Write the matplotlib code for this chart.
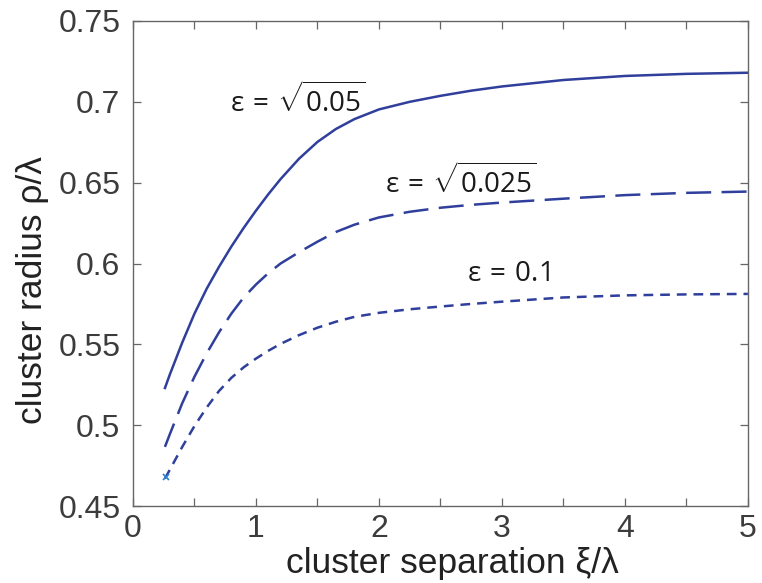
"""Cluster radius vs cluster separation for three values of epsilon"""

import matplotlib
matplotlib.use('Agg')
import matplotlib.pyplot as plt

# Data
sep = [0.26, 0.3, 0.4, 0.5, 0.6, 0.7, 0.8, 0.9, 1.0, 1.1, 1.2, 1.35, 1.5,
       1.65, 1.8, 2.0, 2.25, 2.5, 2.75, 3.0, 3.5, 4.0, 4.5, 5.0]
radius_005 = [0.523, 0.5314, 0.551, 0.569, 0.5845, 0.598, 0.6105, 0.622,
              0.6327, 0.6428, 0.6522, 0.6648, 0.6752, 0.6832, 0.6893, 0.6953,
              0.7, 0.7037, 0.7069, 0.7095, 0.7135, 0.716, 0.7173, 0.718]
radius_0025 = [0.4866, 0.4945, 0.5135, 0.53, 0.5445, 0.5575, 0.569, 0.579,
               0.587, 0.594, 0.6, 0.607, 0.6135, 0.6195, 0.624, 0.6285,
               0.632, 0.6345, 0.6363, 0.6377, 0.6401, 0.6423, 0.6437, 0.6445]
radius_01 = [0.467, 0.4725, 0.4865, 0.4995, 0.511, 0.5212, 0.5293, 0.5358,
             0.5412, 0.546, 0.5503, 0.5557, 0.5603, 0.564, 0.567, 0.5695,
             0.5717, 0.5734, 0.575, 0.5764, 0.579, 0.5803, 0.5809, 0.5812]
marker_x = [0.27]
marker_y = [0.468]

x_ticks = [0, 1, 2, 3, 4, 5]
x_minor = [0.5, 1.5, 2.5, 3.5, 4.5]
y_ticks = [0.45, 0.5, 0.55, 0.6, 0.65, 0.7, 0.75]
y_tick_labels = ['0.45', '0.5', '0.55', '0.6', '0.65', '0.7', '0.75']

line_color = '#2f3f9b'
plt.rcParams['lines.scale_dashes'] = False
plt.rcParams['mathtext.fontset'] = 'custom'
plt.rcParams['mathtext.rm'] = 'Open Sans'
plt.rcParams['mathtext.it'] = 'Open Sans'

fig = plt.figure(figsize=(7.62, 5.83), dpi=100)
ax = fig.add_axes([0.1745, 0.132, 0.807, 0.832])

ax.plot(sep, radius_005, color=line_color, lw=1.8)
ax.plot(sep, radius_0025, color=line_color, lw=1.8, linestyle=(0, (18, 7.5)))
ax.plot(sep, radius_01, color=line_color, lw=1.8, linestyle=(0, (7, 5)))
ax.plot(marker_x, marker_y, 'x', color='#2a7fd4', markersize=4, mew=1.2)

# Curve labels
ax.text(0.79, 0.701, r'$\varepsilon\,=\,\sqrt{0.05}$', fontsize=20,
        color='#1a1a1a', va='center')
ax.text(2.05, 0.651, r'$\varepsilon\,=\,\sqrt{0.025}$', fontsize=20,
        color='#1a1a1a', va='center')
ax.text(2.72, 0.594, r'$\varepsilon\,=\,0.1$', fontsize=20,
        color='#1a1a1a', va='center')

ax.set_xlim(0, 5)
ax.set_ylim(0.45, 0.75)
ax.set_xticks(x_ticks)
ax.set_xticks(x_minor, minor=True)
ax.set_yticks(y_ticks)
ax.set_yticklabels(y_tick_labels)

for spine in ax.spines.values():
    spine.set_color('#666666')
    spine.set_linewidth(1.0)
ax.tick_params(which='both', direction='in', length=6, width=0.9,
               top=True, right=True, color='#666666')
ax.tick_params(axis='both', labelsize=23, labelcolor='#3c3c3c',
               labelfontfamily='Liberation Sans')
ax.tick_params(axis='x', pad=6)
ax.tick_params(axis='y', pad=9)

ax.set_xlabel('cluster separation ξ/λ', fontsize=25.5, color='#222222',
              family='Liberation Sans')
ax.set_ylabel('cluster radius ρ/λ', fontsize=25.5, color='#222222',
              family='Liberation Sans')
ax.xaxis.set_label_coords(0.52, -0.085)
ax.yaxis.set_label_coords(-0.137, 0.445)

fig.savefig('out.png', dpi=100)
